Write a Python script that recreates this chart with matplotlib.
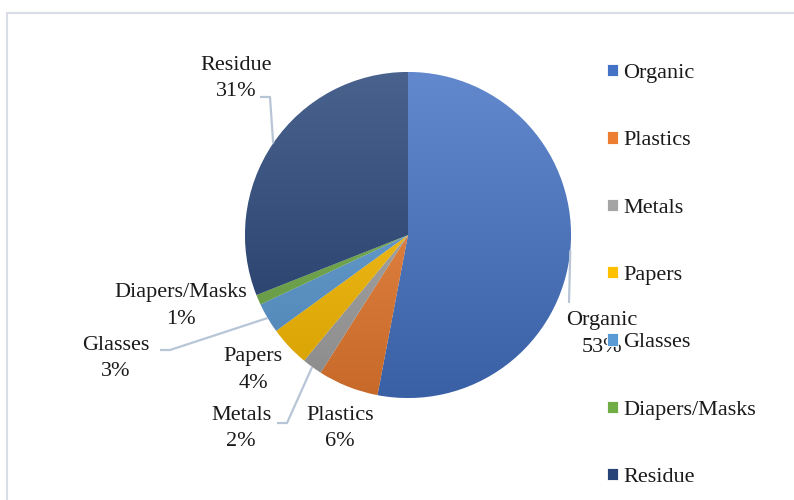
import matplotlib
matplotlib.use("Agg")
import matplotlib.pyplot as plt
import numpy as np
from matplotlib.colors import to_rgb
from matplotlib.patches import Rectangle

categories = ["Organic", "Plastics", "Metals", "Papers", "Glasses", "Diapers/Masks", "Residue"]
values = [53, 6, 2, 4, 3, 1, 31]
colors = ["#4472C4", "#ED7D31", "#A5A5A5", "#FFC000", "#5B9BD5", "#70AD47", "#264478"]

# label layout in pixel coordinates (x, y from top): text centre, leader elbow, leader end
label_pos = {
    "Organic": (602, 334),
    "Plastics": (340, 428),
    "Metals": (241, 428),
    "Papers": (253, 370),
    "Glasses": (116, 358),
    "Diapers/Masks": (181, 306),
    "Residue": (236, 79),
}
leaders = {
    "Organic": [(569, 303)],
    "Metals": [(287, 423), (277, 423)],
    "Glasses": [(170, 350), (160, 350)],
    "Residue": [(270, 97), (260, 97)],
}

W, H = 794, 500
plt.rcParams["font.family"] = ["Liberation Serif", "DejaVu Serif"]
fig = plt.figure(figsize=(W / 100, H / 100), dpi=100)
ax = fig.add_axes([0, 0, 1, 1])

def P(x, y):
    return (x, H - y)

cx, cy = P(408, 235)
R = 163
wedges, _ = ax.pie(values, colors=colors, startangle=90, counterclock=False,
                   center=(cx, cy), radius=R, frame=True,
                   wedgeprops=dict(linewidth=0.6, edgecolor="white"))
ax.set_xlim(0, W)
ax.set_ylim(0, H)
ax.set_aspect("equal")
ax.axis("off")

# vertical gradient fill for each wedge
grad = np.linspace(0, 1, 256)[:, None]
for w, c in zip(wedges, colors):
    rgb = np.array(to_rgb(c))
    top = rgb + (1 - rgb) * 0.16
    bot = rgb * 0.84
    img = top[None, None, :] * (1 - grad[:, :, None]) + bot[None, None, :] * grad[:, :, None]
    img = np.repeat(img, 2, axis=1)
    im = ax.imshow(img, extent=(cx - R, cx + R, cy - R, cy + R), origin="upper",
                   aspect="auto", zorder=w.get_zorder() + 0.1, interpolation="bilinear")
    im.set_clip_path(w)

# labels and leader lines
total = sum(values)
cum = 0
for cat, v in zip(categories, values):
    mid = np.deg2rad(90 - 360 * (cum + v / 2) / total)
    cum += v
    tx, ty = P(*label_pos[cat])
    ax.text(tx, ty, f"{cat}\n{round(100 * v / total)}%", ha="center", va="center",
            fontsize=16, color="#1a1a1a", linespacing=1.5, zorder=5)
    if cat in leaders:
        ex, ey = cx + R * np.cos(mid), cy + R * np.sin(mid)
        pts = [(ex, ey)] + [P(*p) for p in leaders[cat]]
        xs, ys = zip(*pts)
        ax.plot(xs, ys, color="#B8C5D6", lw=1.6, zorder=4, solid_capstyle="butt")

# chart frame
fig.patches.append(Rectangle((7 / W, -0.1), 1.2, (H - 13) / H + 0.1, transform=fig.transFigure,
                             fill=False, edgecolor="#D9DEE6", lw=1.5))

leg = fig.legend(wedges, categories, loc="upper left", bbox_to_anchor=(607 / W, 1 - 64 / H),
                 frameon=False, fontsize=16, labelspacing=2.17, handlelength=0.48,
                 handleheight=0.48, handletextpad=0.25, borderaxespad=0, borderpad=0)
for t in leg.get_texts():
    t.set_color("#1a1a1a")

fig.savefig("out.png", dpi=100)
